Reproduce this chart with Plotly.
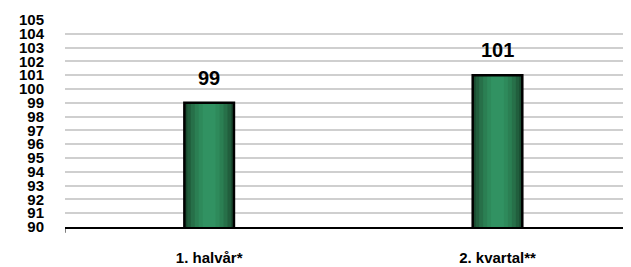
import plotly.graph_objects as go

categories = ["1. halvår*", "2. kvartal**"]
values = [99, 101]
tick_values = list(range(90, 106))

x_pos = list(range(len(categories)))
bar_w = 0.172

# gradient layers: (width fraction, colour) from outside to inside
layers = [
    (1.00, "#1a4a30"),
    (0.88, "#215e3d"),
    (0.74, "#277049"),
    (0.58, "#2b7f53"),
    (0.42, "#2e8a5b"),
    (0.26, "#319262"),
]

fig = go.Figure()
for frac, col in layers:
    fig.add_trace(go.Bar(
        x=x_pos, y=values, width=[bar_w * frac] * len(values),
        marker=dict(color=col, line=dict(width=0)),
        hoverinfo="skip", showlegend=False,
    ))
fig.add_trace(go.Bar(
    x=x_pos, y=values, width=[bar_w] * len(values),
    marker=dict(color="rgba(0,0,0,0)", line=dict(color="black", width=2.5)),
    showlegend=False,
))

for xi, v in zip(x_pos, values):
    fig.add_annotation(
        x=xi, y=v, text=f"<b>{v}</b>", showarrow=False,
        yanchor="bottom", yshift=12,
        font=dict(family="Liberation Sans, Arial", size=20, color="black"),
    )

fig.add_shape(type="line", xref="x", yref="paper", x0=-0.5, x1=-0.5,
              y0=0, y1=-0.028, line=dict(color="black", width=1))

# the page body has an 8px default margin, so the figure is 8px smaller
fig.update_layout(
    width=623, height=259,
    margin=dict(l=57, r=0, t=12, b=40, autoexpand=False),
    paper_bgcolor="white", plot_bgcolor="white",
    barmode="overlay",
    font=dict(family="Liberation Sans, Arial", color="black"),
    xaxis=dict(
        range=[-0.5, 1.463], automargin=False,
        tickvals=x_pos, ticktext=[f"<b>{c}</b>" for c in categories],
        tickfont=dict(size=15),
        showgrid=False, zeroline=False,
        showline=True, linecolor="black", linewidth=1.5,
        ticks="", ticklabelstandoff=16,
    ),
    yaxis=dict(
        range=[90, 105], automargin=False,
        tickvals=tick_values, ticktext=[f"<b>{t}</b>" for t in tick_values],
        tickfont=dict(size=15),
        showgrid=True, gridcolor="#cfcfcf", gridwidth=1.5,
        zeroline=False, showline=False, ticks="",
        ticklabelstandoff=20,
    ),
)

fig.write_html("out.html")
